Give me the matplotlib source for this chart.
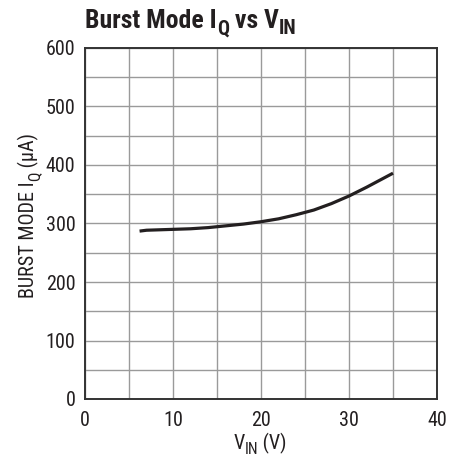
import matplotlib
matplotlib.use("Agg")
import matplotlib.pyplot as plt

FAM = ["Liberation Sans Narrow", "Roboto Condensed", "DejaVu Sans"]
plt.rcParams['font.family'] = FAM

# data
vin = [6.2, 7, 8, 10, 12, 14, 16, 18, 20, 22, 24, 26, 28, 30, 32, 34, 35]
iq = [287, 288.5, 289, 290, 291, 293, 296, 299, 303, 308, 315, 323, 334, 347, 362, 378, 386]
xticks = [0, 10, 20, 30, 40]
yticks = [0, 100, 200, 300, 400, 500, 600]

fig = plt.figure(figsize=(4.62, 4.58), dpi=100)
ax = fig.add_axes([85/462, 1-399/458, 352/462, 351/458])
ax.plot(vin, iq, color="#231f20", lw=2.3, solid_capstyle="butt",
        solid_joinstyle="round", zorder=3)
ax.set_xlim(0, 40)
ax.set_ylim(0, 600)
ax.set_xticks(xticks)
ax.set_yticks(yticks)
ax.set_xticks(range(0, 41, 5), minor=True)
ax.set_yticks(range(0, 601, 50), minor=True)
ax.grid(which="both", color="#9a9a9a", lw=1.0)
ax.set_axisbelow(True)
ax.tick_params(which="both", length=0, labelsize=14.5, colors="#231f20")
ax.tick_params(axis="x", pad=9)
ax.tick_params(axis="y", pad=7)
for s in ax.spines.values():
    s.set_color("#333333")
    s.set_linewidth(1.4)

fig.canvas.draw()
r = fig.canvas.get_renderer()

SUB = 0.78

def rich(x, y, pieces, size, weight="normal", rotation=0, ha="left"):
    """pieces: list of (text, is_sub). x,y in figure pixels (baseline)."""
    widths = []
    for t, sub in pieces:
        fs = size * (SUB if sub else 1.0)
        tt = fig.text(0, 0, t, fontsize=fs, fontweight=weight, color="#231f20",
                      va="baseline", ha="left")
        widths.append(tt.get_window_extent(r).width)
        tt.remove()
    total = sum(widths)
    off = -total/2 if ha == "center" else 0
    for (t, sub), w in zip(pieces, widths):
        fs = size * (SUB if sub else 1.0)
        dy = -size * 0.25 * 100/72 if sub else 0
        if rotation == 0:
            px, py = x + off, y + dy
        else:
            px, py = x - dy, y + off
        fig.text(px/462, py/458, t, fontsize=fs, fontweight=weight, color="#231f20",
                 va="baseline", ha="left", rotation=rotation,
                 rotation_mode="anchor")
        off += w

# title
rich(85, 458-28, [("Burst Mode I", False), ("Q", True), (" vs V", False), ("IN", True)], 18.5, weight="bold")
# x label
rich(260, 458-449, [("V", False), ("IN", True), (" (V)", False)], 14.5, ha="center")
# y label (rotated 90)
rich(34, 458-215, [("BURST MODE I", False), ("Q", True), (" (µA)", False)], 14.5, rotation=90, ha="center")

fig.savefig("out.png", dpi=100)
